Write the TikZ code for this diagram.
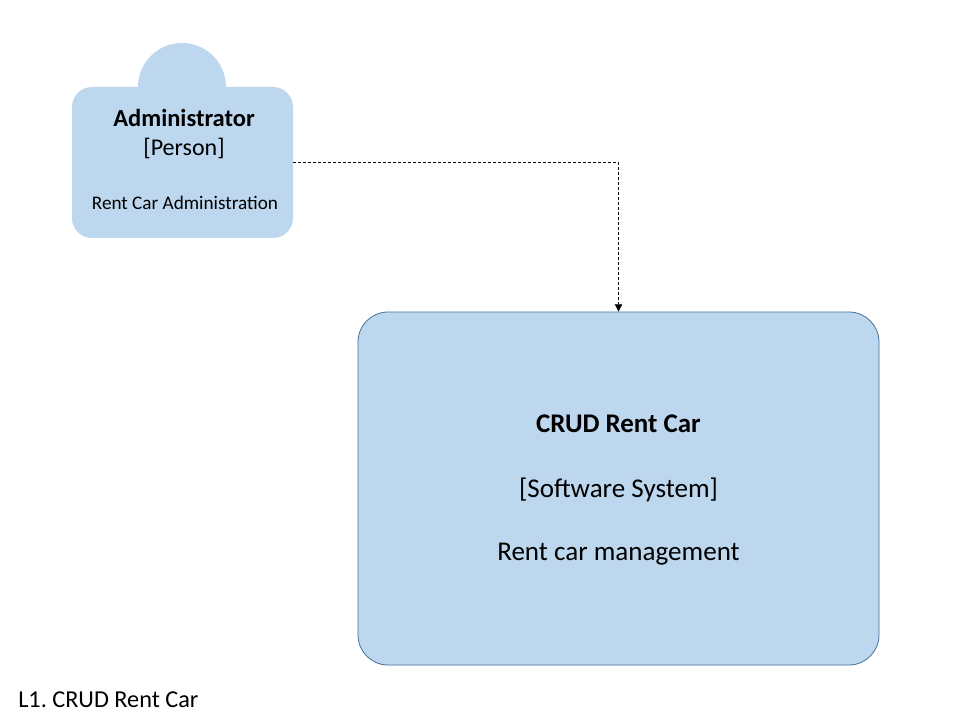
\documentclass[tikz,border=0pt]{standalone}
\usepackage{fontspec}
\setmainfont{Carlito}
\usetikzlibrary{arrows.meta}

\definecolor{c4fill}{RGB}{189,215,238}
\definecolor{c4line}{RGB}{65,113,156}

\tikzset{
  person/.style={fill=c4fill, draw=none, rounded corners=15pt, minimum width=165.75pt, minimum height=113.25pt, inner sep=0pt},
  system/.style={fill=c4fill, draw=c4line, line width=0.6pt, rounded corners=22.5pt, minimum width=390.75pt, minimum height=264.75pt, inner sep=0pt},
  rel/.style={dash pattern=on 2.25pt off 1.5pt, line width=0.6pt, -{Triangle[length=5.5pt,width=5.5pt]}},
  txt/.style={anchor=base, inner sep=0pt}
}

\begin{document}
\frenchspacing
\begin{tikzpicture}[x=0.75pt,y=-0.75pt]
\useasboundingbox (0,0) rectangle (960,720);
% person
\fill[c4fill] (182,87) circle (33pt);
\node[person] (admin) at (182.5,162.5) {};
\node[txt, font=\bfseries\fontsize{18.4}{22}\selectfont] (adminname) at (184,127) {Administrator};
\node[txt, font=\fontsize{18}{22}\selectfont] (admintype) at (184,155.5) {[Person]};
\node[txt, font=\fontsize{14.4}{17}\selectfont] (admindesc) at (185,210) {Rent Car Administration};
% software system
\node[system] (crud) at (618.5,488.5) {};
\node[txt, font=\bfseries\fontsize{20.2}{24}\selectfont] (crudname) at (618.5,432) {CRUD Rent Car};
\node[txt, font=\fontsize{20.3}{24}\selectfont] (crudtype) at (618.5,497) {[Software System]};
\node[txt, font=\fontsize{20.3}{24}\selectfont] (cruddesc) at (618.5,560) {Rent car management};
% relation
\draw[rel] (admin.east) -| (crud.north);
% title
\node[txt, anchor=base west, font=\fontsize{18.2}{22}\selectfont] (title) at (18,707) {L1. CRUD Rent Car};
\end{tikzpicture}
\end{document}
